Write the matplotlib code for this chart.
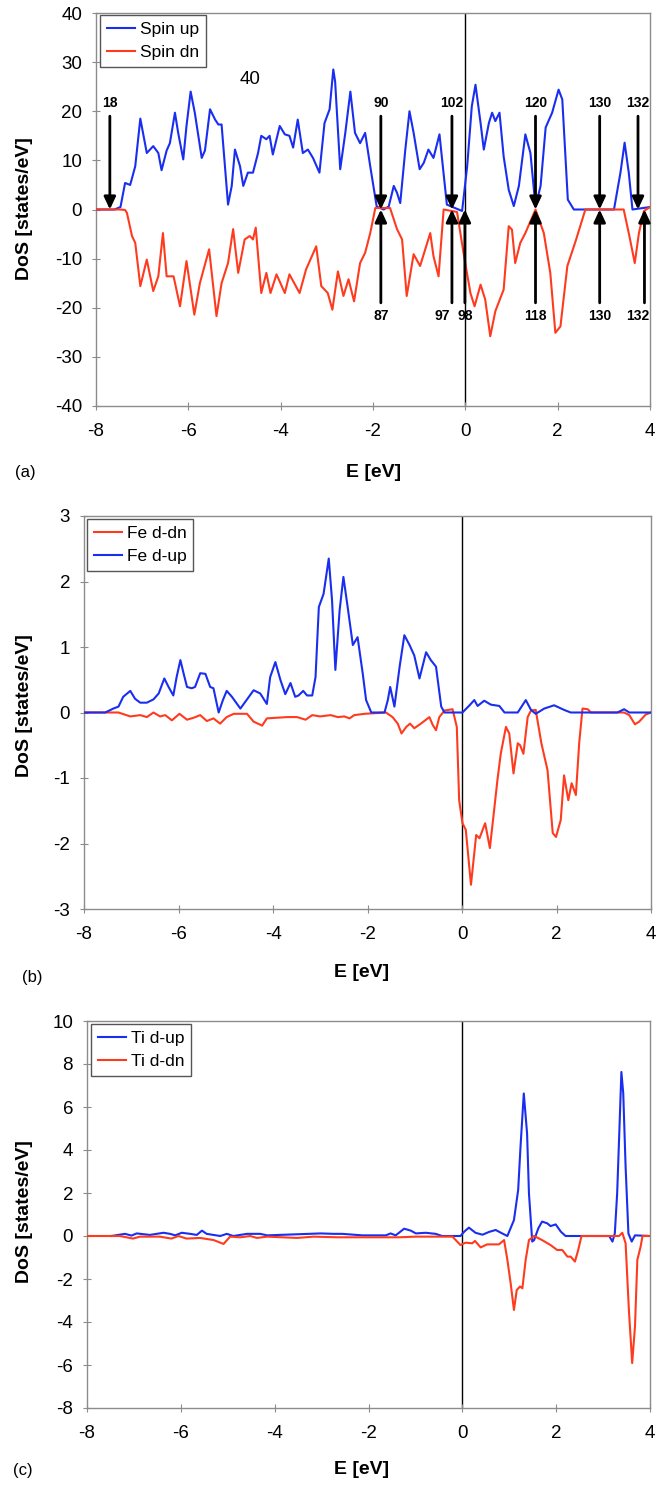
import matplotlib
matplotlib.use("Agg")
import matplotlib.pyplot as plt

plt.rcParams['font.family'] = ['Liberation Sans', 'DejaVu Sans']
plt.rcParams['axes.unicode_minus'] = False

BLUE = '#1a2ef0'
RED = '#ff3b1f'

# ---- (a) total DoS ----
E_up_a = [-8.0, -7.6, -7.47, -7.37, -7.26, -7.15, -7.04, -6.90, -6.76, -6.65, -6.58, -6.47, -6.40, -6.29,
          -6.22, -6.11, -6.04, -5.95, -5.86, -5.71, -5.64, -5.53, -5.42, -5.35, -5.28, -5.14, -5.06, -4.99,
          -4.88, -4.81, -4.71, -4.60, -4.49, -4.42, -4.31, -4.24, -4.17, -4.02, -3.91, -3.81, -3.73, -3.63,
          -3.52, -3.41, -3.30, -3.16, -3.05, -2.94, -2.86, -2.82, -2.71, -2.60, -2.49, -2.39, -2.28, -2.17,
          -2.06, -1.92, -1.77, -1.66, -1.55, -1.48, -1.41, -1.30, -1.21, -1.12, -0.99, -0.90, -0.80, -0.69,
          -0.56, -0.51, -0.40, -0.25, -0.07, 0.04, 0.14, 0.22, 0.33, 0.40, 0.51, 0.58, 0.65, 0.74, 0.83,
          0.94, 1.05, 1.16, 1.30, 1.41, 1.52, 1.63, 1.74, 1.88, 2.02, 2.10, 2.22, 2.35, 3.22, 3.36, 3.45,
          3.54, 3.62, 4.0]
dos_up_a = [0, 0, 0.5, 5.4, 5.0, 8.8, 18.5, 11.5, 12.9, 11.5, 8.0, 12.0, 13.5, 19.7,
            15.6, 10.2, 17.0, 24.0, 19.7, 10.5, 12.0, 20.4, 18.3, 17.3, 17.3, 1.0, 4.8, 12.2,
            8.8, 4.8, 7.5, 7.5, 11.5, 15.0, 14.3, 15.0, 11.2, 17.0, 15.3, 15.0, 12.6, 18.3,
            11.5, 12.2, 10.5, 7.5, 17.6, 20.4, 28.5, 26.0, 8.2, 15.6, 24.0, 15.6, 13.5, 15.6,
            8.8, 0.6, 0.0, 0.6, 4.8, 3.4, 1.3, 12.2, 20.0, 15.6, 8.2, 9.5, 12.2, 10.5,
            15.3, 10.8, 1.0, 0.4, -0.3, 8.8, 21.0, 25.4, 17.6, 12.2, 17.6, 19.7, 18.0, 19.7, 10.8,
            4.0, 0.7, 4.8, 15.3, 11.5, 0.6, 4.8, 16.7, 19.7, 24.4, 22.4, 2.0, 0.0, 0.0, 7.5, 13.6,
            7.5, 0.0, 0.5]

E_dn_a = [-8.0, -7.47, -7.37, -7.33, -7.22, -7.15, -7.04, -6.90, -6.76, -6.65, -6.55, -6.47, -6.32, -6.18,
          -6.04, -5.87, -5.75, -5.55, -5.39, -5.28, -5.14, -5.03, -4.92, -4.78, -4.67, -4.60, -4.54, -4.42,
          -4.31, -4.22, -4.09, -3.91, -3.81, -3.59, -3.45, -3.23, -3.12, -2.98, -2.88, -2.76, -2.64, -2.53,
          -2.41, -2.28, -2.17, -2.06, -1.95, -1.63, -1.48, -1.37, -1.27, -1.12, -0.98, -0.76, -0.69, -0.58,
          -0.47, -0.18, -0.04, 0.11, 0.20, 0.33, 0.43, 0.54, 0.65, 0.83, 0.94, 1.01, 1.08, 1.19, 1.30,
          1.52, 1.70, 1.84, 1.95, 2.06, 2.21, 2.39, 2.60, 3.43, 3.54, 3.67, 3.76, 3.87, 4.0]
dos_dn_a = [0, 0, -0.1, -0.7, -5.4, -6.8, -15.6, -10.2, -16.6, -13.6, -4.8, -13.6, -13.6, -19.7,
            -10.5, -21.4, -15.0, -8.1, -21.7, -15.0, -10.9, -4.0, -12.9, -6.1, -5.4, -6.1, -3.7, -17.0,
            -12.9, -17.0, -13.2, -17.0, -13.2, -17.0, -12.2, -7.5, -15.6, -17.0, -20.4, -12.6, -17.6, -14.2,
            -18.7, -10.9, -8.8, -4.8, 0.3, 0.3, -4.0, -6.1, -17.6, -9.1, -11.5, -4.8, -9.5, -13.6,
            0.0, -0.5, -8.8, -17.0, -19.7, -15.3, -18.3, -25.8, -20.7, -16.3, -3.4, -4.1, -10.9, -6.8, -4.8,
            0.0, -4.8, -12.9, -25.1, -23.8, -11.5, -6.4, 0.0, 0.0, -4.8, -10.9, -4.8, -0.3, 0.5]

# band numbers marked with arrows
top_E = [-7.70, -1.83, -0.29, 1.52, 2.91, 3.74]
top_bands = ['18', '90', '102', '120', '130', '132']
bot_E = [-1.83, -0.29, -0.01, 1.52, 2.91, 3.88]
bot_bands = ['87', '97', '98', '118', '130', '132']

# ---- (b) Fe d ----
E_fe_up = [-8.0, -7.55, -7.38, -7.27, -7.17, -7.02, -6.92, -6.81, -6.67, -6.53, -6.42, -6.30, -6.21, -6.11,
           -6.04, -5.96, -5.89, -5.82, -5.72, -5.65, -5.54, -5.43, -5.33, -5.26, -5.15, -5.06, -4.98, -4.87,
           -4.69, -4.55, -4.41, -4.27, -4.13, -4.06, -3.95, -3.84, -3.74, -3.63, -3.53, -3.46, -3.36, -3.28,
           -3.17, -3.10, -3.03, -2.93, -2.82, -2.75, -2.68, -2.59, -2.51, -2.42, -2.31, -2.21, -2.10, -2.03,
           -1.92, -1.64, -1.57, -1.52, -1.43, -1.32, -1.22, -1.11, -1.01, -0.90, -0.76, -0.66, -0.55, -0.44,
           -0.37, 0.01, 0.16, 0.26, 0.33, 0.47, 0.61, 0.79, 0.90, 1.18, 1.35, 1.46, 1.56, 1.74, 1.95, 2.16,
           2.30, 3.29, 3.43, 3.54, 4.0]
dos_fe_up = [0, 0, 0.06, 0.09, 0.24, 0.33, 0.21, 0.15, 0.15, 0.20, 0.29, 0.52, 0.39, 0.26,
             0.54, 0.80, 0.59, 0.39, 0.37, 0.39, 0.60, 0.59, 0.39, 0.37, 0.0, 0.19, 0.33, 0.24,
             0.06, 0.20, 0.34, 0.29, 0.13, 0.54, 0.77, 0.49, 0.28, 0.45, 0.24, 0.26, 0.33, 0.26,
             0.26, 0.54, 1.61, 1.81, 2.35, 1.71, 0.65, 1.56, 2.07, 1.61, 1.03, 1.15, 0.59, 0.19,
             0.0, 0.0, 0.19, 0.39, 0.09, 0.70, 1.18, 1.03, 0.87, 0.52, 0.92, 0.80, 0.70, 0.09,
             0.0, 0.0, 0.11, 0.19, 0.10, 0.18, 0.12, 0.10, 0.0, 0.0, 0.19, 0.04, -0.02, 0.06, 0.11, 0.04,
             0.0, 0.0, 0.05, 0.0, 0.0]

E_fe_dn = [-8.0, -7.52, -7.27, -7.02, -6.81, -6.67, -6.53, -6.39, -6.28, -6.14, -5.98, -5.82, -5.68, -5.54,
           -5.40, -5.26, -5.12, -4.98, -4.83, -4.69, -4.55, -4.41, -4.23, -4.13, -3.92, -3.70, -3.49, -3.31,
           -3.17, -3.00, -2.78, -2.63, -2.49, -2.38, -2.28, -2.06, -1.61, -1.47, -1.36, -1.28, -1.18, -1.10,
           -1.01, -0.87, -0.69, -0.62, -0.55, -0.48, -0.37, -0.20, -0.11, -0.06, 0.01, 0.08, 0.19, 0.30,
           0.37, 0.49, 0.59, 0.68, 0.75, 0.82, 0.93, 1.00, 1.09, 1.18, 1.23, 1.30, 1.39, 1.46, 1.56, 1.68,
           1.81, 1.92, 1.99, 2.09, 2.16, 2.25, 2.32, 2.41, 2.48, 2.55, 2.66, 2.73, 3.43, 3.54, 3.66, 3.75,
           3.89, 4.0]
dos_fe_dn = [0, 0, 0, -0.06, -0.04, -0.07, 0.0, -0.06, -0.04, -0.12, -0.02, -0.11, -0.08, -0.04,
             -0.13, -0.09, -0.17, -0.07, -0.02, -0.02, -0.02, -0.14, -0.20, -0.09, -0.08, -0.07, -0.07, -0.11,
             -0.04, -0.06, -0.04, -0.07, -0.06, -0.09, -0.04, -0.02, 0.0, -0.07, -0.17, -0.32, -0.22, -0.17,
             -0.24, -0.17, -0.07, -0.19, -0.27, -0.07, 0.03, 0.05, -0.22, -1.34, -1.69, -1.79, -2.63, -1.87,
             -1.92, -1.69, -2.07, -1.49, -1.03, -0.63, -0.22, -0.32, -0.93, -0.47, -0.50, -0.63, -0.07, 0.03, 0.04, -0.47,
             -0.88, -1.84, -1.90, -1.64, -0.96, -1.34, -1.08, -1.26, -0.47, 0.06, 0.05, 0.0, 0.0, -0.04, -0.18, -0.14,
             -0.03, 0.0]

# ---- (c) Ti d ----
E_ti_up = [-7.48, -7.19, -7.05, -6.94, -6.66, -6.37, -6.23, -6.12, -5.98, -5.80, -5.66, -5.55, -5.45, -5.16,
           -5.02, -4.88, -4.59, -4.31, -4.16, -3.27, -3.02, -2.74, -2.56, -2.13, -1.63, -1.53, -1.42, -1.24,
           -1.10, -0.99, -0.78, -0.57, -0.43, -0.04, 0.04, 0.14, 0.28, 0.43, 0.57, 0.71, 0.85, 0.96, 1.10,
           1.19, 1.24, 1.31, 1.38, 1.42, 1.49, 1.53, 1.62, 1.70, 1.81, 1.88, 1.99, 2.10, 2.20, 3.13, 3.20,
           3.25, 3.30, 3.35, 3.39, 3.43, 3.48, 3.54, 3.61, 3.68, 4.0]
dos_ti_up = [0.0, 0.10, 0.02, 0.12, 0.05, 0.15, 0.10, 0.03, 0.15, 0.10, 0.05, 0.25, 0.10, 0.0,
             0.10, 0.0, 0.10, 0.10, 0.03, 0.10, 0.12, 0.10, 0.10, 0.03, 0.03, 0.12, 0.03, 0.34,
             0.25, 0.12, 0.15, 0.10, 0.0, 0.0, 0.20, 0.39, 0.15, 0.06, 0.19, 0.28, 0.12, 0.0, 0.74,
             2.14, 4.15, 6.63, 4.77, 1.98, -0.26, -0.19, 0.36, 0.67, 0.59, 0.46, 0.54, 0.20, 0.0, 0.0, -0.26,
             0.12, 1.98, 5.08, 7.63, 6.63, 3.22, 0.12, -0.26, 0.03, 0.0]

E_ti_dn = [-8.0, -7.30, -7.16, -7.02, -6.87, -6.45, -6.20, -6.05, -5.88, -5.59, -5.30, -5.09, -4.95, -4.73,
           -4.52, -4.38, -4.16, -3.52, -3.17, -2.67, -2.41, -1.35, -0.99, -0.21, -0.11, -0.04, 0.07, 0.21,
           0.27, 0.39, 0.53, 0.78, 0.89, 0.96, 1.03, 1.10, 1.16, 1.23, 1.28, 1.35, 1.42, 1.53, 1.70, 1.88,
           2.02, 2.13, 2.24, 2.31, 2.40, 2.47, 2.54, 3.34, 3.41, 3.48, 3.55, 3.62, 3.68, 3.73, 3.80, 3.84, 4.0]
dos_ti_dn = [0, 0, -0.06, -0.12, -0.03, -0.03, -0.12, 0.0, -0.12, -0.09, -0.19, -0.37, -0.03, -0.06,
             0.0, -0.09, -0.03, -0.09, -0.03, -0.06, -0.06, -0.06, -0.03, -0.03, -0.26, -0.42, -0.31, -0.34,
             -0.23, -0.53, -0.39, -0.39, -0.19, -1.11, -2.20, -3.44, -2.51, -2.35, -2.43, -1.11, -0.19, 0.0, -0.19, -0.42,
             -0.65, -0.65, -0.96, -0.96, -1.19, -0.65, 0.0, 0.0, 0.15, -0.34, -3.44, -5.91, -4.21, -1.11, -0.50, 0.0, 0.0]

E_ticks = [-8, -6, -4, -2, 0, 2, 4]


def style_axes(ax, yticks):
    """common look of the three panels"""
    ax.set_xlim(-8, 4)
    ax.set_ylim(yticks[0], yticks[-1])
    ax.set_xticks(E_ticks)
    ax.set_yticks(yticks)
    for s in ax.spines.values():
        s.set_color('#8c8c8c')
        s.set_linewidth(1.0)
    ax.tick_params(direction='inout', length=6, width=0.8, color='#8c8c8c', labelsize=13.5)
    ax.tick_params(axis='x', pad=9)
    ax.tick_params(axis='y', pad=7)
    ax.axvline(0, color='black', lw=1.0, zorder=1)
    ax.set_xlabel('E [eV]', fontsize=14, fontweight='bold')
    ax.set_ylabel('DoS [states/eV]', fontsize=14, fontweight='bold')


def add_legend(ax, anchor):
    leg = ax.legend(loc='upper left', bbox_to_anchor=anchor, borderaxespad=0, fontsize=12.5,
                    fancybox=False, framealpha=1, edgecolor='#555555', borderpad=0.4,
                    labelspacing=0.45, handlelength=1.6, handletextpad=0.3)
    leg.get_frame().set_linewidth(1.0)


fig = plt.figure(figsize=(6.65, 14.92), dpi=100)
W, H = 665.0, 1492.0


def px_axes(left, top, right, bottom):
    return fig.add_axes([left / W, 1 - bottom / H, (right - left) / W, (bottom - top) / H])


# panel (a)
ax1 = px_axes(96, 13, 650, 406)
ax1.plot(E_up_a, dos_up_a, color=BLUE, lw=1.5, label='Spin up', zorder=3)
ax1.plot(E_dn_a, dos_dn_a, color=RED, lw=1.5, label='Spin dn', zorder=3)
style_axes(ax1, [-40, -30, -20, -10, 0, 10, 20, 30, 40])
add_legend(ax1, (0.007, 0.995))
ax1.text(-4.67, 26.4, '40', fontsize=13.5, ha='center', va='center')

arrow = dict(arrowstyle='-|>,head_width=0.35,head_length=0.75', color='black', lw=2.0,
             shrinkA=0, shrinkB=0)
for e, lab in zip(top_E, top_bands):
    ax1.annotate('', xy=(e, 0), xytext=(e, 19), arrowprops=arrow, zorder=4)
    ax1.text(e, 20.3, lab, fontsize=10, fontweight='bold', ha='center', va='bottom')
bot_shift = [0, -10, 0, 0, 0, -7]  # label offsets in pixels where labels crowd
for e, lab, dx in zip(bot_E, bot_bands, bot_shift):
    ax1.annotate('', xy=(e, 0), xytext=(e, -19), arrowprops=arrow, zorder=4)
    ax1.annotate(lab, xy=(e, -20.3), xytext=(dx * 0.72, 0), textcoords='offset points',
                 fontsize=10, fontweight='bold', ha='center', va='top')

# panel (b)
ax2 = px_axes(84, 516, 651, 909)
ax2.plot(E_fe_dn, dos_fe_dn, color=RED, lw=1.5, label='Fe d-dn', zorder=3)
ax2.plot(E_fe_up, dos_fe_up, color=BLUE, lw=1.5, label='Fe d-up', zorder=3)
style_axes(ax2, [-3, -2, -1, 0, 1, 2, 3])
add_legend(ax2, (0.005, 0.992))

# panel (c)
ax3 = px_axes(87, 1021, 650, 1408)
ax3.plot(E_ti_up, dos_ti_up, color=BLUE, lw=1.5, label='Ti d-up', zorder=3)
ax3.plot(E_ti_dn, dos_ti_dn, color=RED, lw=1.5, label='Ti d-dn', zorder=3)
style_axes(ax3, [-8, -6, -4, -2, 0, 2, 4, 6, 8, 10])
add_legend(ax3, (0.007, 0.992))

# axis label placement (figure coordinates)
for ax, xl, yl in [(ax1, (374, 464), 209), (ax2, (362, 964), 706), (ax3, (362, 1461), 1212)]:
    ax.xaxis.set_label_coords(xl[0] / W, 1 - xl[1] / H, transform=fig.transFigure)
    ax.yaxis.set_label_coords(33 / W, 1 - yl / H, transform=fig.transFigure)

for lab, (x, y) in zip(['(a)', '(b)', '(c)'], [(25, 472), (32, 977), (23, 1471)]):
    fig.text(x / W, 1 - y / H, lab, fontsize=12, ha='center', va='center')

fig.savefig('out.png', dpi=100)
